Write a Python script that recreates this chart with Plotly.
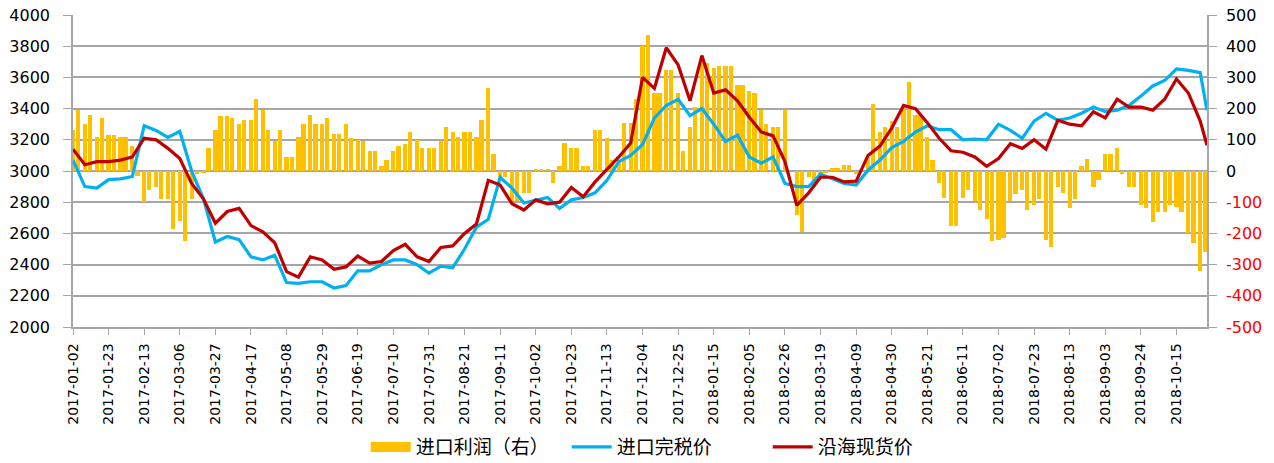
"""进口利润 / 进口完税价 / 沿海现货价 双轴图。"""
import pandas as pd
import plotly.graph_objects as go

# 价格：周度取样（每周一），最后补一个 2018-11-02
LINE_DATES = [d.strftime("%Y-%m-%d") for d in pd.date_range("2017-01-02", periods=96, freq="7D")] + ["2018-11-02"]
# 利润柱：每周两根（周一、周四）
BAR_DATES = []
for d in pd.date_range("2017-01-02", periods=96, freq="7D"):
    BAR_DATES += [d.strftime("%Y-%m-%d"), (d + pd.Timedelta(days=3)).strftime("%Y-%m-%d")]

# 进口利润（右轴），每行 5 周 × (周一, 周四)
PROFIT = [130, 195, 150, 180, 110, 170, 115, 115, 110, 110,
          80, -15, -100, -60, -50, -90, -90, -185, -160, -225,
          -90, -10, -5, 75, 130, 175, 175, 170, 150, 165,
          165, 230, 195, 130, 95, 130, 45, 45, 110, 150,
          180, 150, 150, 170, 120, 120, 150, 105, 100, 95,
          65, 65, 15, 35, 65, 80, 85, 125, 100, 75,
          75, 75, 95, 140, 125, 110, 125, 125, 110, 165,
          265, 55, -20, -20, -95, -95, -70, -70, 5, 5,
          5, -40, 15, 90, 75, 75, 15, 15, 130, 130,
          105, 35, 35, 155, 155, 230, 400, 435, 250, 250,
          325, 325, 250, 65, 140, 205, 345, 345, 330, 335,
          335, 335, 275, 275, 255, 250, 195, 150, 140, 140,
          195, 0, -140, -195, -20, -50, -20, -5, 10, 10,
          20, 20, -10, 0, 45, 215, 125, 140, 160, 140,
          205, 285, 180, 180, 110, 35, -40, -85, -175, -175,
          -85, -60, -95, -125, -155, -225, -220, -215, -95, -75,
          -60, -125, -110, -90, -220, -245, -50, -70, -120, -90,
          15, 40, -50, -30, 55, 55, 75, -10, -50, -50,
          -110, -120, -165, -130, -130, -110, -115, -130, -200, -230,
          -320, -260]

# 进口完税价（左轴）
IMPORT_PRICE = [3070, 2900, 2890, 2945, 2950, 2965, 3290, 3260, 3215, 3255,
                3000, 2820, 2545, 2580, 2560, 2450, 2430, 2460, 2285, 2280,
                2290, 2290, 2250, 2265, 2360, 2360, 2400, 2430, 2430, 2400,
                2345, 2390, 2380, 2500, 2640, 2690, 2960, 2890, 2795, 2810,
                2830, 2760, 2815, 2830, 2860, 2940, 3060, 3100, 3170, 3340,
                3420, 3460, 3355, 3400, 3300, 3190, 3230, 3090, 3050, 3090,
                2920, 2900, 2900, 2980, 2950, 2920, 2910, 3005, 3070, 3150,
                3190, 3250, 3290, 3265, 3265, 3200, 3205, 3200, 3300, 3260,
                3210, 3320, 3370, 3325, 3340, 3370, 3410, 3380, 3390, 3420,
                3480, 3545, 3580, 3655, 3645, 3630, 3390]

# 沿海现货价（左轴）
SPOT_PRICE = [3140, 3040, 3060, 3060, 3070, 3090, 3210, 3200, 3145, 3080,
              2920, 2820, 2665, 2740, 2760, 2650, 2610, 2540, 2355, 2320,
              2450, 2430, 2370, 2385, 2455, 2410, 2420, 2490, 2530, 2450,
              2420, 2510, 2520, 2600, 2660, 2940, 2910, 2790, 2750, 2815,
              2790, 2800, 2895, 2835, 2930, 3010, 3090, 3180, 3600, 3530,
              3790, 3680, 3450, 3740, 3500, 3520, 3450, 3345, 3250, 3225,
              3060, 2780, 2860, 2960, 2960, 2930, 2935, 3100, 3160, 3275,
              3420, 3400, 3310, 3210, 3130, 3120, 3090, 3030, 3080, 3175,
              3145, 3200, 3140, 3325, 3300, 3290, 3380, 3340, 3460, 3410,
              3410, 3390, 3460, 3590, 3500, 3320, 3165]

GOLD = "#ffc000"
BLUE = "#00b0f0"
RED = "#c00000"
GRID = "#a6a6a6"
FONT = "DejaVu Sans, Noto Sans CJK SC, sans-serif"
DAY_MS = 86400000

fig = go.Figure()
fig.add_trace(go.Bar(
    x=BAR_DATES, y=PROFIT, name="进口利润（右）", yaxis="y", showlegend=False,
    width=2.5 * DAY_MS, marker=dict(color=GOLD, line=dict(width=0))))
# 图例里的宽色块（柱子本身不进图例）
fig.add_trace(go.Scatter(
    x=[None], y=[None], name="进口利润（右）", yaxis="y2", mode="lines",
    line=dict(color=GOLD, width=11)))
fig.add_trace(go.Scatter(
    x=LINE_DATES, y=IMPORT_PRICE, name="进口完税价", yaxis="y2", mode="lines",
    line=dict(color=BLUE, width=3.2)))
fig.add_trace(go.Scatter(
    x=LINE_DATES, y=SPOT_PRICE, name="沿海现货价", yaxis="y2", mode="lines",
    line=dict(color=RED, width=3.2)))

# 右轴负值标红
right_vals = list(range(-500, 501, 100))
right_text = [f"<span style='color:#ff0000'>{v}</span>" if v < 0 else str(v) for v in right_vals]

fig.update_layout(
    width=1274, height=463,
    paper_bgcolor="white", plot_bgcolor="white",
    font=dict(family=FONT, color="#000000", size=16),
    margin=dict(l=73, r=67, t=15, b=136, autoexpand=False),
    bargap=0,
    showlegend=True,
    legend=dict(orientation="h", x=0.524, xanchor="center", y=-0.385, yanchor="middle",
                itemwidth=40, entrywidth=146,
                font=dict(size=19, color="#000000"), bgcolor="rgba(0,0,0,0)"),
    xaxis=dict(
        type="date", range=["2017-01-02", "2018-11-02"], automargin=False,
        tick0="2017-01-02", dtick=21 * DAY_MS, tickformat="%Y-%m-%d",
        tickangle=-90, ticks="outside", ticklen=6, tickcolor=GRID,
        ticklabelstandoff=3, ticklabeloverflow="allow",
        showline=True, linecolor=GRID, linewidth=1.5, showgrid=False,
        tickfont=dict(size=14)),
    yaxis=dict(
        side="right", range=[-500, 500], tickvals=right_vals, ticktext=right_text,
        automargin=False, ticklabeloverflow="allow",
        showgrid=True, gridcolor=GRID, gridwidth=1.5, zeroline=False,
        showline=True, linecolor=GRID, linewidth=1.5,
        ticks="outside", ticklen=8, tickcolor=GRID, ticklabelstandoff=6),
    yaxis2=dict(
        side="left", overlaying="y", range=[2000, 4000], dtick=200,
        automargin=False, ticklabeloverflow="allow", showgrid=False, zeroline=False,
        showline=True, linecolor=GRID, linewidth=1.5,
        ticks="outside", ticklen=8, tickcolor=GRID, ticklabelstandoff=10),
)

# 去掉页面默认 8px 边距，让图正好铺满窗口；不显示工具栏
fig.write_html("out.html", config={"displayModeBar": False},
               post_script="document.body.style.margin='0';")
